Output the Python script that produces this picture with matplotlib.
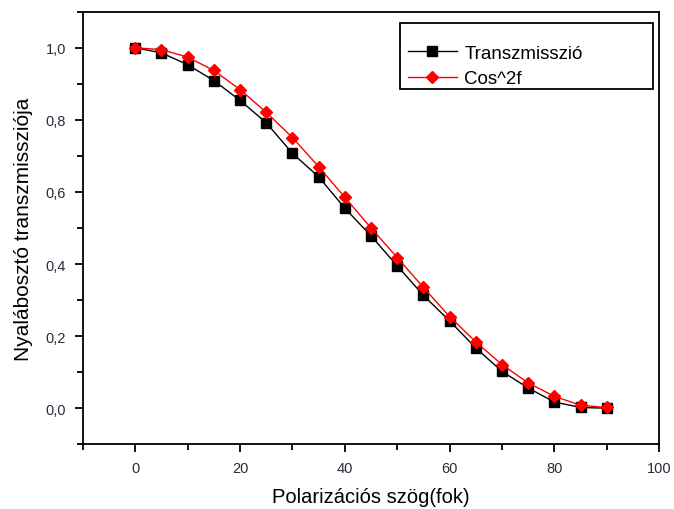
import matplotlib
matplotlib.use("Agg")
import matplotlib.pyplot as plt
from matplotlib.patches import Rectangle
from matplotlib.ticker import MultipleLocator, FuncFormatter

plt.rcParams['font.family'] = ['Liberation Sans', 'DejaVu Sans']

# polarization angle (deg)
angle = [0, 5, 10, 15, 20, 25, 30, 35, 40, 45, 50, 55, 60, 65, 70, 75, 80, 85, 90]
# measured transmission
trans = [1.0, 0.986, 0.953, 0.909, 0.854, 0.792, 0.707, 0.642, 0.555, 0.478,
         0.395, 0.313, 0.242, 0.167, 0.102, 0.056, 0.017, 0.002, 0.0]
# cos^2 reference
cos2 = [1.0, 0.995, 0.974, 0.937, 0.884, 0.821, 0.751, 0.670, 0.585, 0.500,
        0.418, 0.335, 0.254, 0.184, 0.121, 0.070, 0.033, 0.008, 0.002]

fig = plt.figure(figsize=(6.74, 5.10), dpi=100)
ax = fig.add_axes([0.123, 0.127, 0.855, 0.848])

ax.plot(angle, trans, color='black', lw=1, marker='s', ms=7, label='Transzmisszió')
ax.plot(angle, cos2, color='red', lw=1, marker='D', ms=6, label='Cos^2f')

ax.set_xlim(-10, 100)
ax.set_ylim(-0.1, 1.1)
ax.xaxis.set_major_locator(MultipleLocator(20))
ax.xaxis.set_minor_locator(MultipleLocator(10))
ax.yaxis.set_major_locator(MultipleLocator(0.2))
ax.yaxis.set_minor_locator(MultipleLocator(0.1))
ax.yaxis.set_major_formatter(FuncFormatter(lambda v, p: ('%.1f' % v).replace('.', ',')))
ax.tick_params(which='both', direction='out', width=1.3, labelsize=10.5, colors='black',
               labelcolor='#2b2b3a')
ax.tick_params(which='major', length=6, pad=6)
ax.tick_params(which='minor', length=4)
for s in ax.spines.values():
    s.set_linewidth(1.3)

ax.set_xlabel('Polarizációs szög(fok)', fontsize=14.5, labelpad=9)
ax.set_ylabel('Nyalábosztó transzmissziója', fontsize=15, labelpad=9)

# legend without its own frame, boxed like the original (wide box)
leg = ax.legend(loc='upper left', fontsize=13.5, frameon=False,
                borderpad=0.4, handlelength=2.6, handletextpad=0.4, labelspacing=0.45,
                bbox_to_anchor=(0.535, 0.963))
ax.add_patch(Rectangle((0.550, 0.822), 0.440, 0.1525, transform=ax.transAxes,
                       fill=False, edgecolor='black', lw=1.3, zorder=5))

fig.savefig('out.png', dpi=100)
